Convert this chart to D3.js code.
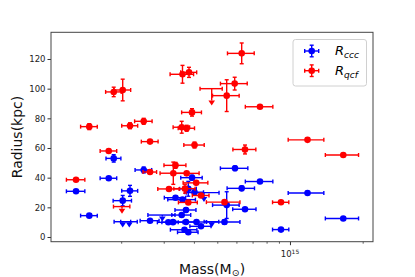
<!DOCTYPE html>
<html>
<head>
<meta charset="utf-8">
<script src="https://cdn.jsdelivr.net/npm/d3@7"></script>
<style>
body { margin: 0; background: #fff; }
svg { display: block; }
</style>
</head>
<body>
<script>
// mass in units of 1e14 Msun, radius in kpc

// R_ccc measurements
var cccMass      = [1.30, 1.475, 1.776, 1.862, 2.029, 2.175, 2.479, 2.633, 3.134, 3.278, 3.357, 3.588, 3.561, 3.71, 3.71, 3.657, 3.792, 3.929, 3.792, 4.024, 4.101, 4.28, 5.356, 5.469, 6.31, 5.92, 6.512, 7.512, 9.178, 11.82, 16.62];
var cccMassErr   = [0.114, 0.117, 0.14, 0.132, 0.177, 0.165, 0.196, 0.237, 0.31, 0.33, 0.34, 0.47, 0.32, 0.37, 0.35, 0.46, 0.37, 0.40, 0.30, 0.36, 0.41, 0.43, 0.85, 0.69, 0.82, 0.77, 0.72, 0.98, 0.71, 1.99, 2.61];
var cccRadius    = [30.8, 14.4, 39.6, 53.0, 24.5, 31.1, 45.2, 11.0, 9.9, 10.0, 26.5, 25.2, 14.8, 18.2, 10.1, 4.9, 3.2, 40.0, 32.5, 30.2, 10.1, 7.2, 10.1, 21.5, 32.8, 46.3, 18.7, 37.4, 5.0, 29.7, 12.5];
var cccRadiusErr = [1, 1, 1, 2.5, 3.5, 3.7, 2, 1, 1, 1, 1, 1, 1, 1.5, 1, 1, 1, 1.5, 5, 1, 1, 1, 1.5, 9, 1.5, 1.5, 1, 1, 1, 1, 1];

// R_ccc upper limits
var cccLimMass    = [2.029, 2.161, 2.96, 4.404, 4.741];
var cccLimMassErr = [0.16, 0.17, 0.38, 0.68, 0.33];
var cccLimRadius  = [10.3, 10.3, 14.8, 29.9, 10.3];
var cccLimDrop    = [0.5, 0.5, 1, 3, 0.5];

// R_qcf measurements
var qcfMass      = [1.30, 1.475, 1.776, 1.862, 2.029, 2.175, 2.479, 2.633, 2.633, 3.588, 3.818, 3.929, 3.561, 3.734, 4.024, 6.31, 5.902, 5.469, 7.512, 6.512, 11.82, 16.62, 9.178, 5.356, 4.28, 4.089, 3.792, 3.674, 3.734, 3.287, 3.357, 3.155];
var qcfMassErr   = [0.114, 0.117, 0.14, 0.138, 0.16, 0.165, 0.206, 0.21, 0.17, 0.40, 0.29, 0.37, 0.28, 0.29, 0.39, 0.80, 0.75, 0.69, 0.98, 0.71, 1.99, 2.61, 0.71, 0.85, 0.34, 0.48, 0.34, 0.37, 0.47, 0.39, 0.35, 0.32];
var qcfRadius    = [38.6, 74.4, 58.0, 97.8, 99.1, 75.0, 78.0, 64.3, 43.8, 109.7, 111.0, 84.0, 74.0, 73.3, 62.0, 123.8, 103.4, 95.3, 87.8, 59.0, 65.5, 55.3, 23.4, 23.5, 28.0, 36.5, 23.3, 32.6, 42.9, 43.0, 48.3, 32.4];
var qcfRadiusErr = [1, 2, 1, 3.2, 7.3, 2, 2, 1, 1, 6, 3.4, 2.5, 4, 2, 2, 7, 4.3, 10.7, 1, 3, 1, 1, 1, 1, 1, 1, 1, 3, 1, 7.5, 2, 1];

// R_qcf upper limits
var qcfLimMass    = [2.015, 4.741];
var qcfLimMassErr = [0.157, 0.50];
var qcfLimRadius  = [20.5, 100.0];
var qcfLimDrop    = [1.5, 8];

// ticks
var yTicks = [0, 20, 40, 60, 80, 100, 120];
var xMajorTicks = [10];
var xMinorTicks = [2, 3, 4, 5, 6, 7, 8, 9, 20];

var width = 415, height = 277;
var blue = "#0000ff", red = "#ff0000";

var svg = d3.select("body").append("svg")
    .attr("width", width)
    .attr("height", height);

var x = d3.scaleLog().domain([1.024, 22.07]).range([51, 373]);
var y = d3.scaleLinear().domain([-3.17, 138]).range([241.7, 32.3]);

// axes
var yAxis = svg.append("g")
    .attr("transform", "translate(51,0)")
    .call(d3.axisLeft(y).tickValues(yTicks).tickSize(3.5).tickPadding(2));
yAxis.select(".domain").remove();
yAxis.selectAll("text").attr("font-family", "DejaVu Sans").attr("font-size", 8.5).attr("fill", "#222");
yAxis.selectAll("line").attr("stroke", "#333");

var xMinor = svg.append("g")
    .attr("transform", "translate(0,241.7)")
    .call(d3.axisBottom(x).tickValues(xMinorTicks).tickSize(2).tickFormat(""));
xMinor.select(".domain").remove();
xMinor.selectAll("line").attr("stroke", "#333").attr("stroke-width", 0.8);

var xMajor = svg.append("g")
    .attr("transform", "translate(0,241.7)")
    .call(d3.axisBottom(x).tickValues(xMajorTicks).tickSize(3.5).tickFormat(""));
xMajor.select(".domain").remove();
xMajor.selectAll("line").attr("stroke", "#333");

// 10^15 label
var majLabel = svg.append("text")
    .attr("x", x(10))
    .attr("y", 257)
    .attr("text-anchor", "middle")
    .attr("font-family", "DejaVu Sans")
    .attr("font-size", 8.5)
    .attr("fill", "#222");
majLabel.append("tspan").text("10");
majLabel.append("tspan").attr("font-size", 6).attr("dy", -3.5).text("15");

// frame
svg.append("rect")
    .attr("x", 51).attr("y", 32.3)
    .attr("width", 322).attr("height", 209.4)
    .attr("fill", "none")
    .attr("stroke", "#444")
    .attr("stroke-width", 1);

// axis labels
var xLabel = svg.append("text")
    .attr("x", 212)
    .attr("y", 273.5)
    .attr("text-anchor", "middle")
    .attr("font-family", "DejaVu Sans")
    .attr("font-size", 14)
    .attr("fill", "#111");
xLabel.append("tspan").text("Mass(M");
xLabel.append("tspan").attr("font-size", 9.5).attr("dy", 2.5).text("\u2299");
xLabel.append("tspan").attr("dy", -2.5).text(")");

svg.append("text")
    .attr("transform", "translate(21.5,137) rotate(-90)")
    .attr("text-anchor", "middle")
    .attr("font-family", "DejaVu Sans")
    .attr("font-size", 14)
    .attr("fill", "#111")
    .text("Radius(kpc)");

var plot = svg.append("g");
var cap = 2;

// one point with both error bars
const drawPoint = (g, px, py, x0, x1, y0, y1, color) => {
    g.append("line").attr("x1", x0).attr("x2", x1).attr("y1", py).attr("y2", py);
    g.append("line").attr("x1", x0).attr("x2", x0).attr("y1", py - cap).attr("y2", py + cap);
    g.append("line").attr("x1", x1).attr("x2", x1).attr("y1", py - cap).attr("y2", py + cap);
    g.append("line").attr("x1", px).attr("x2", px).attr("y1", y0).attr("y2", y1);
    g.append("line").attr("x1", px - cap).attr("x2", px + cap).attr("y1", y0).attr("y2", y0);
    g.append("line").attr("x1", px - cap).attr("x2", px + cap).attr("y1", y1).attr("y2", y1);
    g.append("circle").attr("cx", px).attr("cy", py).attr("r", 3.3).attr("fill", color).attr("stroke", "none");
}

const drawSeries = (mass, massErr, radius, radiusErr, color) => {
    let g = plot.append("g").attr("stroke", color).attr("stroke-width", 1.4);
    for (let i = 0; i < mass.length; i++) {
        drawPoint(g, x(mass[i]), y(radius[i]),
            x(mass[i] - massErr[i]), x(mass[i] + massErr[i]),
            y(radius[i] - radiusErr[i]), y(radius[i] + radiusErr[i]), color);
    }
}

// upper limits: horizontal bar plus a downward caret
const drawLimits = (mass, massErr, radius, drop, color) => {
    let g = plot.append("g").attr("stroke", color).attr("stroke-width", 1.4);
    for (let i = 0; i < mass.length; i++) {
        let px = x(mass[i]), py = y(radius[i]);
        let x0 = x(mass[i] - massErr[i]), x1 = x(mass[i] + massErr[i]);
        let yb = y(radius[i] - drop[i]);
        g.append("line").attr("x1", x0).attr("x2", x1).attr("y1", py).attr("y2", py);
        g.append("line").attr("x1", x0).attr("x2", x0).attr("y1", py - cap).attr("y2", py + cap);
        g.append("line").attr("x1", x1).attr("x2", x1).attr("y1", py - cap).attr("y2", py + cap);
        g.append("line").attr("x1", px).attr("x2", px).attr("y1", py).attr("y2", yb);
        g.append("path")
            .attr("d", "M" + (px - 3.3) + "," + yb + "L" + (px + 3.3) + "," + yb + "L" + px + "," + (yb + 5) + "Z")
            .attr("fill", color).attr("stroke", "none");
    }
}

drawSeries(cccMass, cccMassErr, cccRadius, cccRadiusErr, blue);
drawLimits(cccLimMass, cccLimMassErr, cccLimRadius, cccLimDrop, blue);
drawSeries(qcfMass, qcfMassErr, qcfRadius, qcfRadiusErr, red);
drawLimits(qcfLimMass, qcfLimMassErr, qcfLimRadius, qcfLimDrop, red);

// legend
var legend = svg.append("g");
legend.append("rect")
    .attr("x", 293).attr("y", 39.5)
    .attr("width", 73.5).attr("height", 46.5)
    .attr("rx", 2.5)
    .attr("fill", "#fff")
    .attr("fill-opacity", 0.8)
    .attr("stroke", "#d0d0d0")
    .attr("stroke-width", 1);

var legendItems = [
    {color: blue, sub: "ccc", cy: 51},
    {color: red, sub: "qcf", cy: 70.7}
];
legendItems.forEach((d) => {
    let g = legend.append("g").attr("stroke", d.color).attr("stroke-width", 1.4);
    drawPoint(g, 311.7, d.cy, 304.7, 318.7, d.cy + 5.8, d.cy - 5.8, d.color);
    let t = legend.append("text")
        .attr("x", 335)
        .attr("y", d.cy + 4.3)
        .attr("font-family", "DejaVu Sans")
        .attr("font-style", "italic")
        .attr("font-size", 13)
        .attr("fill", "#000");
    t.append("tspan").text("R");
    t.append("tspan").attr("font-size", 9).attr("dy", 2.8).text(d.sub);
});
</script>
</body>
</html>
